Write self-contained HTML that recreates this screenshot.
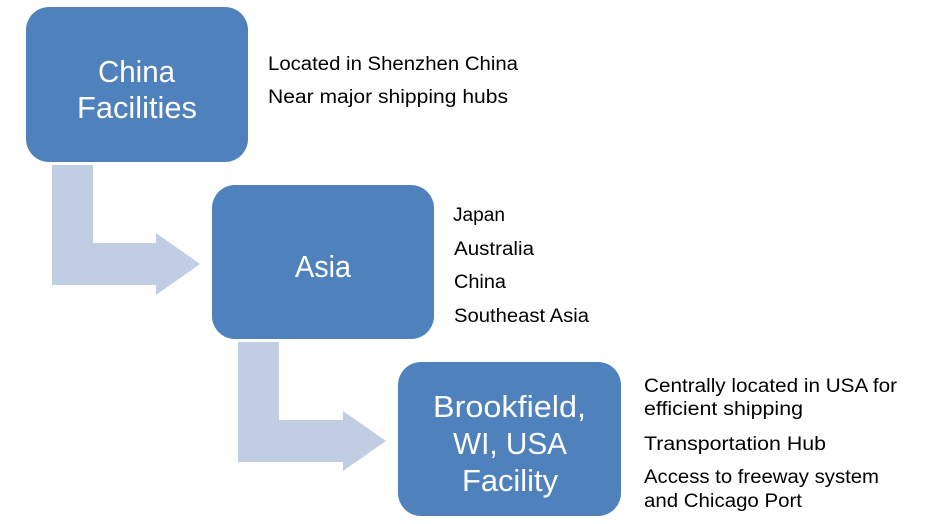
<!DOCTYPE html>
<html>
<head>
<meta charset="utf-8">
<style>
html,body{margin:0;padding:0;background:#fff;}
svg{display:block;}
text{font-family:"Liberation Sans", sans-serif;}
</style>
</head>
<body>
<svg width="925" height="524" viewBox="0 0 925 524" xmlns="http://www.w3.org/2000/svg">
  <!-- Arrow 1 -->
  <path d="M52,165 L93,165 L93,243 L156,243 L156,233 L200,264 L156,295 L156,285 L52,285 Z" fill="#C0CDE3"/>
  <!-- Arrow 2 -->
  <path d="M238,342 L279,342 L279,420 L343,420 L343,411 L386,441 L343,471 L343,462 L238,462 Z" fill="#C0CDE3"/>

  <!-- Box 1 -->
  <rect x="26" y="7" width="222" height="155" rx="23" ry="23" fill="#4F81BD"/>
  <!-- Box 2 -->
  <rect x="212" y="185" width="222" height="154" rx="23" ry="23" fill="#4F81BD"/>
  <!-- Box 3 -->
  <rect x="398" y="362" width="223" height="154" rx="23" ry="23" fill="#4F81BD"/>

  <!-- Box texts -->
  <g fill="#ffffff" font-size="31">
    <text x="98" y="82" textLength="77" lengthAdjust="spacingAndGlyphs">China</text>
    <text x="77" y="118" textLength="120" lengthAdjust="spacingAndGlyphs">Facilities</text>
    <text x="295" y="277" textLength="56" lengthAdjust="spacingAndGlyphs">Asia</text>
    <text x="433" y="417" textLength="153" lengthAdjust="spacingAndGlyphs">Brookfield,</text>
    <text x="453" y="454" textLength="114" lengthAdjust="spacingAndGlyphs">WI, USA</text>
    <text x="462" y="491" textLength="96" lengthAdjust="spacingAndGlyphs">Facility</text>
  </g>

  <!-- Side texts -->
  <g fill="#000000" font-size="19">
    <text x="268" y="70" textLength="250" lengthAdjust="spacingAndGlyphs">Located in Shenzhen China</text>
    <text x="268" y="103" textLength="240" lengthAdjust="spacingAndGlyphs">Near major shipping hubs</text>

    <text x="453" y="221" textLength="52" lengthAdjust="spacingAndGlyphs">Japan</text>
    <text x="454" y="255" textLength="80" lengthAdjust="spacingAndGlyphs">Australia</text>
    <text x="454" y="288" textLength="52" lengthAdjust="spacingAndGlyphs">China</text>
    <text x="454" y="322" textLength="135" lengthAdjust="spacingAndGlyphs">Southeast Asia</text>

    <text x="644" y="392" textLength="253" lengthAdjust="spacingAndGlyphs">Centrally located in USA for</text>
    <text x="644" y="415" textLength="159" lengthAdjust="spacingAndGlyphs">efficient shipping</text>
    <text x="644" y="450" textLength="182" lengthAdjust="spacingAndGlyphs">Transportation Hub</text>
    <text x="644" y="483" textLength="235" lengthAdjust="spacingAndGlyphs">Access to freeway system</text>
    <text x="644" y="507" textLength="158" lengthAdjust="spacingAndGlyphs">and Chicago Port</text>
  </g>
</svg>
</body>
</html>
